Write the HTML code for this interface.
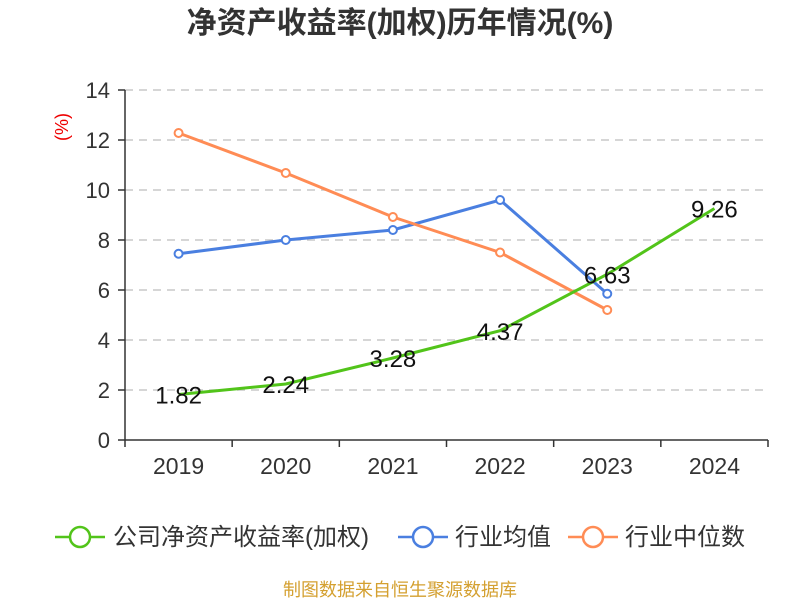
<!DOCTYPE html>
<html><head><meta charset="utf-8"><style>
body{margin:0;background:#fff;}
svg{font-family:"Liberation Sans","Noto Sans CJK SC",sans-serif;}
</style></head><body>
<svg id="c" width="800" height="600" xmlns="http://www.w3.org/2000/svg">
<text x="400" y="33" text-anchor="middle" font-size="30" font-weight="bold" fill="#333">净资产收益率(加权)历年情况(%)</text>
<text x="0" y="0" transform="translate(68,127) rotate(-90)" text-anchor="middle" font-size="18" fill="#e00">(%)</text>
<g id="grid"></g><g id="axes"></g><g id="series"></g>
<g>
<g><line x1="55" y1="537" x2="105" y2="537" stroke="#52c41a" stroke-width="2.5"/><circle cx="80" cy="537" r="10" fill="#fff" stroke="#52c41a" stroke-width="2.5"/><text x="113" y="545" font-size="24" fill="#333">公司净资产收益率(加权)</text></g>
<g><line x1="398" y1="537" x2="448" y2="537" stroke="#4a7fe0" stroke-width="2.5"/><circle cx="423" cy="537" r="10" fill="#fff" stroke="#4a7fe0" stroke-width="2.5"/><text x="455" y="545" font-size="24" fill="#333">行业均值</text></g>
<g><line x1="568" y1="537" x2="618" y2="537" stroke="#ff8c55" stroke-width="2.5"/><circle cx="593" cy="537" r="10" fill="#fff" stroke="#ff8c55" stroke-width="2.5"/><text x="625" y="545" font-size="24" fill="#333">行业中位数</text></g>
</g>
<text x="400" y="596" text-anchor="middle" font-size="18" fill="#d4a030">制图数据来自恒生聚源数据库</text>
</svg>
<script>
const categories=["2019","2020","2021","2022","2023","2024"];
const companyValues=[1.82,2.24,3.28,4.37,6.63,9.26];
const industryAvg=[7.45,8.0,8.4,9.6,5.85];
const industryMedian=[12.28,10.68,8.92,7.5,5.2];
const yTicks=[0,2,4,6,8,10,12,14];
const NS="http://www.w3.org/2000/svg";
const L=125,R=768,T=90,B=440,yMax=14;
const bw=(R-L)/categories.length;
const x=i=>L+bw*(i+0.5);
const y=v=>B-(B-T)*v/yMax;
function mk(tag,attrs,parent){const e=document.createElementNS(NS,tag);for(const k in attrs)e.setAttribute(k,attrs[k]);parent.appendChild(e);return e;}
const grid=document.getElementById('grid'),axes=document.getElementById('axes'),ser=document.getElementById('series');
yTicks.forEach(t=>{
  if(t>0){const g=mk('line',{x1:L,x2:R,y1:y(t),y2:y(t),stroke:'#c8c8c8','stroke-width':1.5,'stroke-dasharray':'8,6'},grid);
  
  }
  mk('line',{x1:L-7,x2:L,y1:y(t),y2:y(t),stroke:'#333','stroke-width':1.5},axes);
  const tx=mk('text',{x:L-15,y:y(t)+8,'text-anchor':'end','font-size':22,fill:'#333'},axes);tx.textContent=t;
  
  
});
mk('line',{x1:L,x2:L,y1:T,y2:B,stroke:'#333','stroke-width':1.5},axes);
mk('line',{x1:L,x2:R,y1:B,y2:B,stroke:'#333','stroke-width':1.5},axes);
categories.forEach((c,i)=>{
  mk('line',{x1:L+bw*i,x2:L+bw*i,y1:B,y2:B+7,stroke:'#333','stroke-width':1.5},axes);
  const tx=mk('text',{x:x(i),y:B+34,'text-anchor':'middle','font-size':23,fill:'#333'},axes);tx.textContent=c;
  
  
});
mk('line',{x1:R,x2:R,y1:B,y2:B+7,stroke:'#333','stroke-width':1.5},axes);
function series(vals,color,name,markers){
  const p=mk('polyline',{points:vals.map((v,i)=>x(i)+','+y(v)).join(' '),fill:'none',stroke:color,'stroke-width':3},ser);
  
  
  if(markers)vals.forEach((v,i)=>{const c=mk('circle',{cx:x(i),cy:y(v),r:4,fill:'#fff',stroke:color,'stroke-width':2},ser);
    
    });
}
series(industryAvg,'#4a7fe0','industry-average',true);
series(industryMedian,'#ff8c55','industry-median',true);
series(companyValues,'#52c41a','company-roe',false);
companyValues.forEach((v,i)=>{
  const t=mk('text',{x:x(i),y:y(v)+9,'text-anchor':'middle','font-size':24,fill:'#111'},ser);t.textContent=v.toFixed(2);
  
  
});
</script>
</body></html>
